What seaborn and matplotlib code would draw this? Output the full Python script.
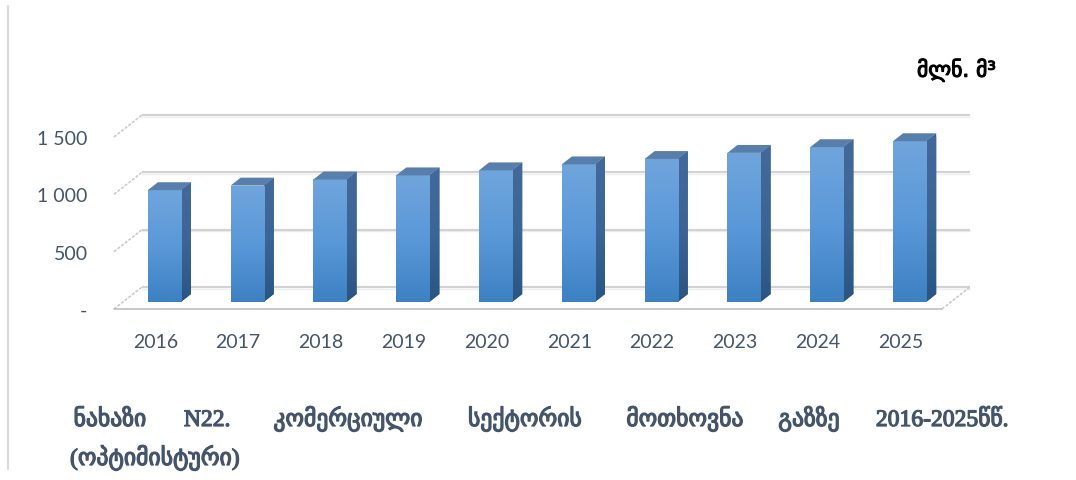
import numpy as np
import pandas as pd
import matplotlib
matplotlib.use("Agg")
import matplotlib.pyplot as plt
import seaborn as sns
from matplotlib.patches import Polygon
from matplotlib.lines import Line2D
from matplotlib.transforms import Affine2D
from matplotlib.colors import LinearSegmentedColormap
import matplotlib.patheffects as pe

# ---- data -------------------------------------------------------------
years = ["2016", "2017", "2018", "2019", "2020",
         "2021", "2022", "2023", "2024", "2025"]
demand = [975, 1015, 1068, 1104, 1148, 1200, 1247, 1300, 1350, 1402]
y_ticks = [0, 500, 1000, 1500]
y_tick_labels = ["-", "500", "1 000", "1 500"]
unit_label = "მლნ. მ³"
caption_words = ["ნახაზი", "N22.", "კომერციული", "სექტორის",
                 "მოთხოვნა", "გაზზე", "2016-2025წწ."]
caption_line2 = "(ოპტიმისტური)"

# ---- style ------------------------------------------------------------
sns.set_theme(style="white")
plt.rcParams["font.family"] = ["Lato", "DejaVu Sans"]
TEXT = "#44546a"

W, H, DPI = 1076, 481, 100
fig = plt.figure(figsize=(W / DPI, H / DPI), dpi=DPI)
fig.patch.set_facecolor("white")

# front floor plane of the chart box (pixels)
L, R, B, T = 114, 942, 310, 138
ax = fig.add_axes([L / W, 1 - B / H, (R - L) / W, (B - T) / H])
ax.set_facecolor("none")

df = pd.DataFrame({"year": years, "demand": demand})
sns.barplot(data=df, x="year", y="demand", width=0.4, color="#4a8bcf",
            saturation=1, ax=ax, zorder=3)
bars = list(ax.patches)

XMIN, XMAX, YMIN, YMAX = -0.5, 9.5, 0, 1500
sx = (R - L) / (XMAX - XMIN)       # px per x unit
sy = (B - T) / (YMAX - YMIN)       # px per y unit

# oblique depth of the box (pixels) -> data units
DEPTH_PX = (28, 22)
Dx, Dy = DEPTH_PX[0] / sx, DEPTH_PX[1] / sy
f0, f1 = 0.32, 0.68                # bar front / back depth fraction

# ---- back wall, left wall ticks, floor --------------------------------
for v in y_ticks:
    ax.plot([XMIN + Dx, XMAX + Dx], [v + Dy, v + Dy], color="#d2d2d2",
            lw=1.6, clip_on=False, zorder=1, solid_capstyle="butt")
    ax.plot([XMIN + Dx, XMAX + Dx], [v + Dy - 1.8 / sy] * 2, color="#efefef",
            lw=1.0, clip_on=False, zorder=0.9)
    ax.plot([XMIN, XMIN + Dx], [v, v + Dy], color="#c8c8c8", lw=1.1,
            ls=(0, (2, 1)), clip_on=False, zorder=1)
ax.plot([XMIN, XMAX], [0, 0], color="#c4c4c4", lw=1.3, clip_on=False, zorder=2)
ax.plot([XMAX, XMAX + Dx], [0, Dy], color="#c8c8c8", lw=1.1,
        ls=(0, (2, 1)), clip_on=False, zorder=2)

# ---- 3-D bars built on the seaborn rectangles -------------------------
front_cmap = LinearSegmentedColormap.from_list("front", ["#3d81c3", "#5a98d8", "#70a5dc"])
side_cmap = LinearSegmentedColormap.from_list("side", ["#2a5482", "#3b6594", "#44699a"])
grad = np.linspace(0, 1, 256).reshape(-1, 1)

for p in bars:
    x0, w, h = p.get_x(), p.get_width(), p.get_height()
    shift = Affine2D().translate(f0 * Dx, f0 * Dy) + ax.transData
    p.set_transform(shift)
    p.set_edgecolor("none")
    im = ax.imshow(grad, extent=(x0, x0 + w, 0, h), origin="lower",
                   aspect="auto", cmap=front_cmap, transform=shift,
                   zorder=3.2, interpolation="bilinear")
    im.set_clip_path(p)

    xr = x0 + w
    side = Polygon([(xr + f0 * Dx, f0 * Dy), (xr + f0 * Dx, h + f0 * Dy),
                    (xr + f1 * Dx, h + f1 * Dy), (xr + f1 * Dx, f1 * Dy)],
                   closed=True, facecolor="#35608f", edgecolor="none",
                   zorder=3, clip_on=False)
    ax.add_patch(side)
    ims = ax.imshow(grad, extent=(xr + f0 * Dx, xr + f1 * Dx, f0 * Dy, h + f1 * Dy),
                    origin="lower", aspect="auto", cmap=side_cmap, zorder=3.1,
                    interpolation="bilinear")
    ims.set_clip_path(side)

    top = Polygon([(x0 + f0 * Dx, h + f0 * Dy), (xr + f0 * Dx, h + f0 * Dy),
                   (xr + f1 * Dx, h + f1 * Dy), (x0 + f1 * Dx, h + f1 * Dy)],
                  closed=True, facecolor="#587fab", edgecolor="none",
                  zorder=3.3, clip_on=False)
    ax.add_patch(top)

ax.set_xlim(XMIN, XMAX)
ax.set_ylim(YMIN, YMAX)

# ---- axes text ---------------------------------------------------------
ax.set_yticks(y_ticks, y_tick_labels)
ax.tick_params(axis="y", length=0, pad=19, labelsize=14, labelcolor=TEXT)
ax.tick_params(axis="x", length=0, pad=17, labelsize=14, labelcolor=TEXT)
ax.set_xlabel("")
ax.set_ylabel("")
ax.grid(False)
for s in ax.spines.values():
    s.set_visible(False)

fig.text(917 / W, 1 - 71 / H, unit_label, ha="left", va="center",
         fontsize=15.5, color="black", family=["DejaVu Sans"],
         path_effects=[pe.withStroke(linewidth=0.8, foreground="black")])

# thin frame line on the left edge
fig.add_artist(Line2D([8 / W, 8 / W], [1 - 7 / H, 1 - 470 / H],
                      color="#d9d9d9", lw=1.5))

# ---- caption (justified first line: word centres in pixels) -----------
cap_font = ["Liberation Serif", "DejaVu Sans"]
cap_fx = [pe.withStroke(linewidth=0.9, foreground=TEXT)]
word_cx = [110, 207, 348, 525, 685, 809, 942]
for x, wtxt in zip(word_cx, caption_words):
    fig.text(x / W, 1 - 427 / H, wtxt, ha="center", va="baseline",
             fontsize=17, color=TEXT, family=cap_font, path_effects=cap_fx)
fig.text(70 / W, 1 - 466 / H, caption_line2, ha="left", va="baseline",
         fontsize=17, color=TEXT, family=cap_font, path_effects=cap_fx)

fig.savefig("out.png", dpi=DPI, facecolor="white")
